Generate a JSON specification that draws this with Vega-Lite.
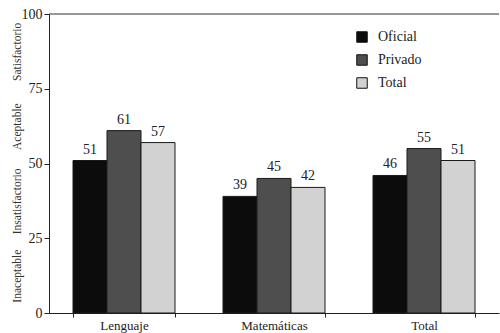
{
  "$schema": "https://vega.github.io/schema/vega-lite/v6.json",
  "width": 450,
  "height": 299,
  "autosize": "none",
  "padding": {"left": 49, "top": 14, "right": 1, "bottom": 20},
  "background": "white",
  "config": {
    "view": {"stroke": null},
    "font": "Liberation Serif",
    "axis": {"labelFont": "Liberation Serif", "domainColor": "#222", "tickColor": "#222", "labelColor": "#222", "grid": false, "title": null}
  },
  "data": {
    "values": [
      {"materia": "Lenguaje", "grupo": "Oficial", "valor": 51},
      {"materia": "Lenguaje", "grupo": "Privado", "valor": 61},
      {"materia": "Lenguaje", "grupo": "Total", "valor": 57},
      {"materia": "Matemáticas", "grupo": "Oficial", "valor": 39},
      {"materia": "Matemáticas", "grupo": "Privado", "valor": 45},
      {"materia": "Matemáticas", "grupo": "Total", "valor": 42},
      {"materia": "Total", "grupo": "Oficial", "valor": 46},
      {"materia": "Total", "grupo": "Privado", "valor": 55},
      {"materia": "Total", "grupo": "Total", "valor": 51}
    ]
  },
  "resolve": {"axis": {"y": "independent"}},
  "layer": [
    {
      "mark": {"type": "bar", "stroke": "#1a1a1a", "strokeWidth": 1},
      "encoding": {
        "x": {
          "field": "materia", "type": "nominal", "sort": null,
          "scale": {"paddingInner": 0.32, "paddingOuter": 0.16},
          "axis": {"labelAngle": 0, "tickBand": "extent", "labelFontSize": 13, "labelPadding": 2, "tickSize": 4}
        },
        "xOffset": {"field": "grupo", "type": "nominal", "sort": ["Oficial", "Privado", "Total"], "scale": {"paddingInner": 0}},
        "y": {
          "field": "valor", "type": "quantitative",
          "scale": {"domain": [0, 100], "nice": false},
          "axis": {"values": [0, 25, 50, 75, 100], "labelFontSize": 14, "tickSize": 5, "labelPadding": 2, "orient": "left"}
        },
        "color": {
          "field": "grupo", "type": "nominal",
          "scale": {"domain": ["Oficial", "Privado", "Total"], "range": ["#0c0c0c", "#4e4e4e", "#d2d2d2"]},
          "legend": {
            "title": null, "orient": "none", "legendX": 306, "legendY": 16,
            "symbolType": "square", "symbolSize": 110, "symbolStrokeColor": "#111", "symbolStrokeWidth": 1,
            "labelFontSize": 14, "labelFont": "Liberation Serif", "labelColor": "#222", "rowPadding": 7, "labelOffset": 9
          }
        }
      }
    },
    {
      "mark": {"type": "text", "baseline": "bottom", "dy": -4, "fontSize": 14, "color": "#222"},
      "encoding": {
        "x": {"field": "materia", "type": "nominal", "sort": null},
        "xOffset": {"field": "grupo", "type": "nominal", "sort": ["Oficial", "Privado", "Total"]},
        "y": {"field": "valor", "type": "quantitative", "axis": null},
        "text": {"field": "valor", "type": "quantitative"}
      }
    },
    {
      "data": {"values": [{"tope": 100}]},
      "mark": {"type": "rule", "color": "#333", "strokeWidth": 1},
      "encoding": {
        "y": {
          "field": "tope", "type": "quantitative",
          "axis": {
            "orient": "left", "values": [12.5, 37.5, 62.5, 87.5], "domain": false, "ticks": false,
            "labelAngle": 270, "labelAlign": "center", "labelBaseline": "bottom", "labelPadding": 27,
            "labelFontSize": 11.5, "labelColor": "#333",
            "labelExpr": "datum.value == 12.5 ? 'Inaceptable' : datum.value == 37.5 ? 'Insatisfactorio' : datum.value == 62.5 ? 'Aceptable' : 'Satisfactorio'"
          }
        }
      }
    }
  ]
}
